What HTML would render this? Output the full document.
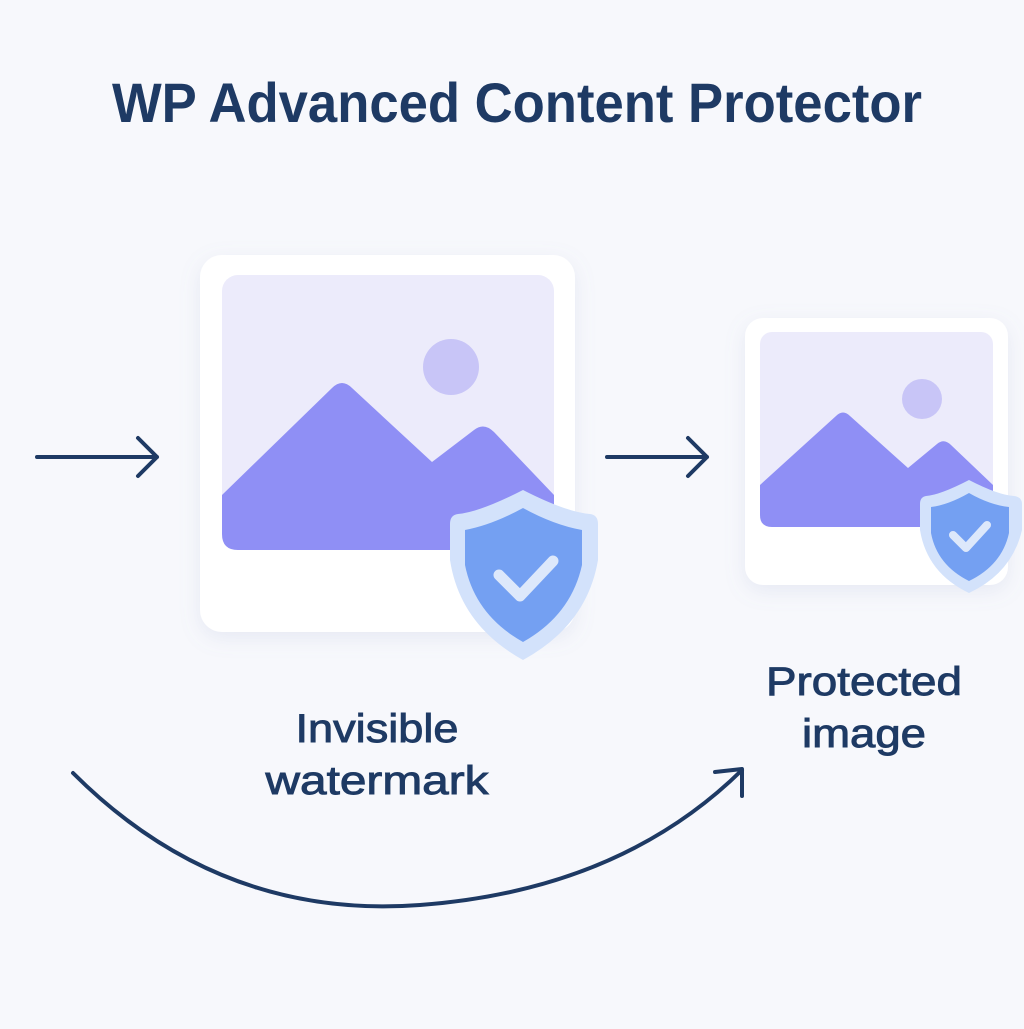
<!DOCTYPE html>
<html><head><style>html,body{margin:0;padding:0;background:#f7f8fc;}</style></head>
<body>
<svg width="1024" height="1024" viewBox="0 0 1024 1024" xmlns="http://www.w3.org/2000/svg">
<defs>
<filter id="sh" x="-20%" y="-20%" width="140%" height="140%"><feDropShadow dx="0" dy="6" stdDeviation="10" flood-color="#8890c0" flood-opacity="0.15"/></filter>
</defs>
<rect width="1024" height="1024" fill="#f7f8fc"/>
<text x="517" y="122" text-anchor="middle" font-family="Liberation Sans, sans-serif" font-weight="bold" font-size="56" fill="#1e3a64" textLength="810" lengthAdjust="spacingAndGlyphs">WP Advanced Content Protector</text>

<rect x="200" y="255" width="375" height="377" rx="22" fill="#ffffff" filter="url(#sh)"/>
<rect x="222" y="275" width="332" height="275" rx="16" fill="#ecebfb"/>
<circle cx="451" cy="367" r="28" fill="#c8c5f7"/>
<path d="M222,495 L332,388 Q342,378 352,388 L432,462 L474,430 Q484,422 494,432 L554,495 L554,534 Q554,550 538,550 L238,550 Q222,550 222,534 Z" fill="#8f8ff5"/>
<path d="M523,490 Q480,512 458,514 Q450,515 450,524 L450,560 Q460,625 523,660 Q587,625 598,560 L598,524 Q598,515 590,514 Q566,512 523,490 Z" fill="#d3e2fb"/>
<path d="M523,508 Q492,525 465,530 L465,565 Q475,615 523,642 Q571,615 582,565 L582,530 Q554,525 523,508 Z" fill="#74a0f2"/>
<path d="M499,575 L520,596 L553,561" fill="none" stroke="#dde8fb" stroke-width="11" stroke-linecap="round" stroke-linejoin="round"/>

<rect x="745" y="318" width="263" height="267" rx="18" fill="#ffffff" filter="url(#sh)"/>
<rect x="760" y="332" width="233" height="195" rx="12" fill="#ecebfb"/>
<circle cx="922" cy="399" r="20" fill="#c8c5f7"/>
<path d="M760,485 L836,416 Q843,409 850,416 L908,468 L937,444 Q944,438 951,445 L993,485 L993,515 Q993,527 981,527 L772,527 Q760,527 760,515 Z" fill="#8f8ff5"/>
<path d="M969,480 Q940,495 926,496 Q920,497 920,504 L920,530 Q927,573 969,593 Q1012,573 1022,530 L1022,504 Q1022,497 1014,496 Q998,495 969,480 Z" fill="#d3e2fb"/>
<path d="M969,493 Q948,505 931,507 L931,533 Q937,565 969,581 Q1002,565 1009,533 L1009,507 Q990,505 969,493 Z" fill="#74a0f2"/>
<path d="M953,535 L966,548 L987,525" fill="none" stroke="#dde8fb" stroke-width="8" stroke-linecap="round" stroke-linejoin="round"/>

<g fill="none" stroke="#1e3a64" stroke-width="4" stroke-linecap="round" stroke-linejoin="round">
<path d="M37,457 L157,457 M138,438 L157,457 L138,476"/>
<path d="M607,457 L707,457 M688,438 L707,457 L688,476"/>
<path d="M73,773 Q220,920 420,905 Q620,890 742,770"/>
<path d="M715,772 L742,769 L742,796"/>
</g>

<g font-family="Liberation Sans, sans-serif" font-size="40" fill="#1e3a64" stroke="#1e3a64" stroke-width="0.9" text-anchor="middle">
<text x="377" y="742" textLength="163" lengthAdjust="spacingAndGlyphs">Invisible</text>
<text x="377" y="794" textLength="223" lengthAdjust="spacingAndGlyphs">watermark</text>
<text x="864" y="695" textLength="196" lengthAdjust="spacingAndGlyphs">Protected</text>
<text x="864" y="747" textLength="124" lengthAdjust="spacingAndGlyphs">image</text>
</g>
</svg>
</body></html>
